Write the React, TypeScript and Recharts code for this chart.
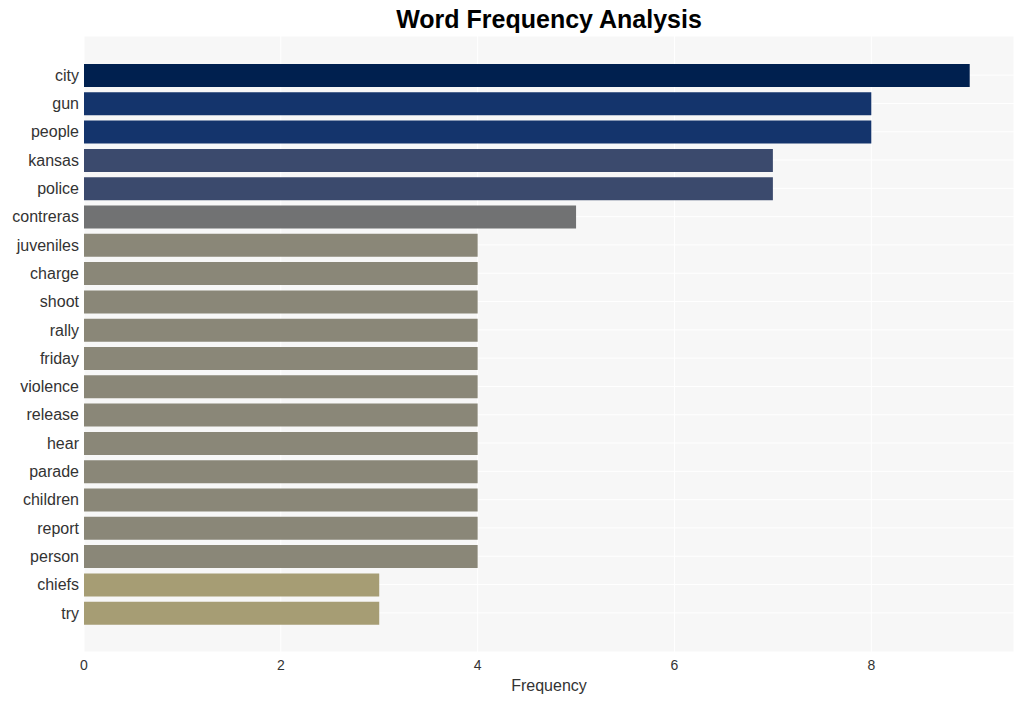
import { BarChart, Bar, XAxis, YAxis, CartesianGrid, Cell } from "recharts";

const words = [
  "city", "gun", "people", "kansas", "police", "contreras", "juveniles", "charge",
  "shoot", "rally", "friday", "violence", "release", "hear", "parade", "children",
  "report", "person", "chiefs", "try",
];
const counts = [9, 8, 8, 7, 7, 5, 4, 4, 4, 4, 4, 4, 4, 4, 4, 4, 4, 4, 3, 3];
const xTicks = [0, 2, 4, 6, 8];

// cividis-like shades keyed by count
const shade: Record<number, string> = {
  9: "#00204f",
  8: "#14346c",
  7: "#3b4a6d",
  5: "#717273",
  4: "#8a8778",
  3: "#a69d74",
};

const font = "'Liberation Sans', Arial, sans-serif";

export default function App() {
  const data = words.map((w, i) => ({ word: w, count: counts[i] }));
  return (
    <div style={{ position: "relative", width: 1024, height: 701, fontFamily: font }}>
      <style>{"body{margin:0}"}</style>
      <div
        style={{
          position: "absolute", left: 84, width: 930, top: 5, textAlign: "center",
          fontSize: 25, fontWeight: 700, color: "#000",
        }}
      >
        Word Frequency Analysis
      </div>
      <BarChart
        width={1024} height={701} data={data} layout="vertical"
        margin={{ top: 36, right: 10, left: 0, bottom: 0 }}
        barSize={23}
      >
        <CartesianGrid fill="#f7f7f7" stroke="#ffffff" strokeWidth={1} />
        <XAxis
          type="number" domain={[0, 9.45]} ticks={xTicks} height={49}
          axisLine={false} tickLine={false}
          tick={{ fontSize: 14, fill: "#333", fontFamily: font }}
          label={{ value: "Frequency", position: "insideBottom", offset: 10, fontSize: 16, fill: "#333", fontFamily: font }}
        />
        <YAxis
          type="category" dataKey="word" width={84}
          axisLine={false} tickLine={false} padding={{ top: 25, bottom: 25 }}
          tick={{ fontSize: 16, fill: "#333", fontFamily: font, dx: 3 }}
        />
        <Bar dataKey="count" isAnimationActive={false}>
          {data.map((d, i) => (
            <Cell key={i} fill={shade[d.count]} />
          ))}
        </Bar>
      </BarChart>
    </div>
  );
}
